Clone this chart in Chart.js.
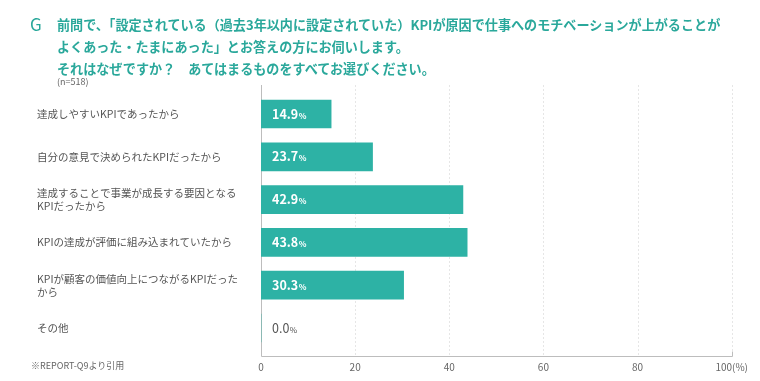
<!DOCTYPE html>
<html lang="ja">
<head>
<meta charset="utf-8">
<script src="https://cdn.jsdelivr.net/npm/chart.js@4/dist/chart.umd.min.js"></script>
<style>
  html, body { margin: 0; padding: 0; background: #ffffff; }
  #wrap { position: relative; width: 760px; height: 381px; overflow: hidden; background: #ffffff;
          font-family: "Noto Sans CJK JP", "Noto Sans", sans-serif; }
  #c { position: absolute; left: 0; top: 0; }
  .g { position: absolute; left: 30px; top: 12px; font-size: 17px; color: #2aa89b; line-height: 24px; }
  .title { position: absolute; left: 57px; top: 14px; font-size: 13.1px; font-weight: bold; color: #2aa89b;
           line-height: 22px; white-space: nowrap; }
  .n { position: absolute; left: 57px; top: 76px; font-size: 9px; color: #666; line-height: 12px; }
  .foot { position: absolute; left: 31px; top: 360px; font-size: 9px; color: #666; line-height: 12px; }
</style>
</head>
<body>
<div id="wrap">
  <canvas id="c" width="760" height="381"></canvas>
  <div class="g">G</div>
  <div class="title">前問で、「設定されている（過去3年以内に設定されていた）KPIが原因で仕事へのモチベーションが上がることが<br>よくあった・たまにあった」とお答えの方にお伺いします。<br>それはなぜですか？　あてはまるものをすべてお選びください。</div>
  <div class="n">(n=518)</div>
  <div class="foot">※REPORT-Q9より引用</div>
</div>
<script>
const categories = [
  ['達成しやすいKPIであったから'],
  ['自分の意見で決められたKPIだったから'],
  ['達成することで事業が成長する要因となる', 'KPIだったから'],
  ['KPIの達成が評価に組み込まれていたから'],
  ['KPIが顧客の価値向上につながるKPIだった', 'から'],
  ['その他']
];
const values = [14.9, 23.7, 42.9, 43.8, 30.3, 0.0];
const xTickValues = [0, 20, 40, 60, 80, 100];
const xTickLabels = ['0', '20', '40', '60', '80', '100(%)'];

const FONT = '"Noto Sans CJK JP", "Noto Sans", sans-serif';
const AREA_TOP = 92.6;
const AREA_BOTTOM = 349.4;
const EXT_TOP = 7.6;
const EXT_BOTTOM = 6.6;

const gridPlugin = {
  id: 'customGrid',
  beforeDatasetsDraw(chart) {
    const { ctx, chartArea, scales } = chart;
    const xs = scales.x;
    const top = chartArea.top - EXT_TOP;
    const bottom = chartArea.bottom + EXT_BOTTOM;
    ctx.save();
    ctx.lineWidth = 1;
    ctx.strokeStyle = '#e6e6e6';
    ctx.setLineDash([2, 2]);
    xTickValues.forEach(v => {
      if (v === 0) return;
      const x = Math.round(xs.getPixelForValue(v)) + 0.5;
      ctx.beginPath();
      ctx.moveTo(x, top);
      ctx.lineTo(x, bottom);
      ctx.stroke();
    });
    ctx.setLineDash([]);
    ctx.strokeStyle = '#bdbdbd';
    const x0 = Math.round(xs.getPixelForValue(0)) + 0.5;
    const x100 = Math.round(xs.getPixelForValue(100)) + 0.5;
    const yb = Math.round(bottom) + 0.5;
    ctx.beginPath();
    ctx.moveTo(x0, top);
    ctx.lineTo(x0, yb);
    ctx.lineTo(x100, yb);
    ctx.moveTo(x100, yb);
    ctx.lineTo(x100, yb - 5);
    ctx.stroke();
    ctx.restore();
  }
};

const valuePlugin = {
  id: 'valueLabels',
  afterDatasetsDraw(chart) {
    const { ctx, scales } = chart;
    const meta = chart.getDatasetMeta(0);
    const x0 = scales.x.getPixelForValue(0) + 11;
    ctx.save();
    ctx.textBaseline = 'alphabetic';
    ctx.textAlign = 'left';
    meta.data.forEach((bar, i) => {
      const v = values[i];
      const txt = v.toFixed(1);
      const color = v > 0 ? '#ffffff' : '#555555';
      const weight = v > 0 ? 'bold' : 'normal';
      ctx.fillStyle = color;
      ctx.font = `${weight} 12.5px ${FONT}`;
      const y = bar.y + 4.5;
      ctx.fillText(txt, x0, y);
      const w = ctx.measureText(txt).width;
      ctx.font = `${weight} 8px ${FONT}`;
      ctx.fillText('%', x0 + w + 0.5, y);
    });
    ctx.restore();
  }
};

new Chart(document.getElementById('c'), {
  type: 'bar',
  data: {
    labels: categories,
    datasets: [{
      data: values,
      backgroundColor: '#2db2a5',
      borderWidth: 0,
      barThickness: 28
    }]
  },
  options: {
    indexAxis: 'y',
    responsive: false,
    animation: false,
    devicePixelRatio: 1,
    layout: { padding: { left: 37, top: AREA_TOP, right: 24, bottom: 0 } },
    plugins: {
      legend: { display: false },
      tooltip: { enabled: false },
      title: { display: false }
    },
    scales: {
      x: {
        type: 'linear',
        min: 0,
        max: 100,
        afterBuildTicks(scale) {
          scale.ticks = xTickValues.map(v => ({ value: v }));
        },
        ticks: {
          color: '#666',
          font: { size: 10, family: FONT },
          padding: 12,
          maxRotation: 0,
          callback(v) {
            const i = xTickValues.indexOf(v);
            return i >= 0 ? xTickLabels[i] : '';
          }
        },
        grid: { display: false, drawTicks: false },
        border: { display: false },
        afterFit(scale) { scale.height = 381 - AREA_BOTTOM; }
      },
      y: {
        type: 'category',
        grid: { display: false, drawTicks: false },
        border: { display: false },
        ticks: {
          crossAlign: 'far',
          color: '#555',
          padding: 0,
          font: { size: 10.5, family: FONT, lineHeight: 1.25 }
        },
        afterFit(scale) { scale.width = 224; }
      }
    }
  },
  plugins: [gridPlugin, valuePlugin]
});
</script>
</body>
</html>
